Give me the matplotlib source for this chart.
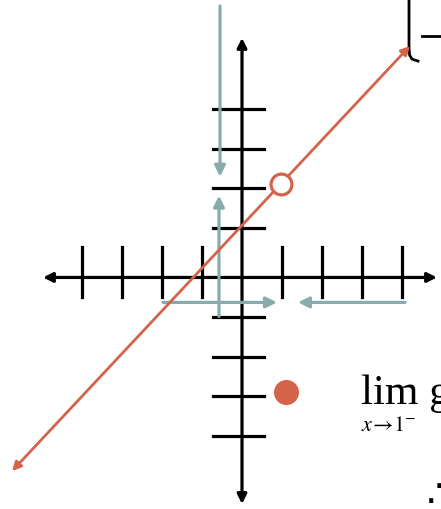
import matplotlib.pyplot as plt

plt.rcParams['mathtext.fontset'] = 'stix'

# tick positions (graph units)
xticks = [-4, -3, -2, -1, 1, 2, 3, 4]
yticks = [4.22, 3.22, 2.25, 1.25, -1, -2, -2.98, -3.98]

# red line g(x) ends, open circle and filled point
line_x = [-5.75, 4.2]
line_y = [-4.85, 5.8]
hole = (0.98, 2.35)
point = (1.1, -2.875)

# teal arrows: (tail, tip)
teal_arrows = [((-0.55, 6.8), (-0.55, 2.525)),
               ((-0.575, -0.975), (-0.575, 2.05)),
               ((-1.975, -0.625), (0.875, -0.625)),
               ((4.075, -0.625), (1.4, -0.625))]

# piece of the brace top right
brace_x = [4.175, 4.175, 4.19, 4.25, 4.4]
brace_y = [7.0, 5.75, 5.57, 5.47, 5.42]
dash_x = [4.5, 5.0]
dash_y = [6.05, 6.05]

red = '#d4634a'
teal = '#88abab'

fig = plt.figure(figsize=(4.41, 5.10), dpi=100)
ax = fig.add_axes([0, 0, 1, 1])
ax.set_xlim(-6.05, 4.975)
ax.set_ylim(-5.8, 6.975)
ax.axis('off')

# axes
ax.annotate('', xy=(4.875, 0), xytext=(-4.975, 0),
            arrowprops=dict(arrowstyle='<|-|>', lw=2.3, color='black',
                            mutation_scale=14, shrinkA=0, shrinkB=0))
ax.annotate('', xy=(0, 6.0), xytext=(0, -5.675),
            arrowprops=dict(arrowstyle='<|-|>', lw=2.3, color='black',
                            mutation_scale=14, shrinkA=0, shrinkB=0))
for t in xticks:
    ax.plot([t, t], [0.775, -0.5], color='black', lw=2.3)
for t in yticks:
    ax.plot([-0.725, 0.55], [t, t], color='black', lw=2.3)

# teal arrows
for tail, tip in teal_arrows:
    ax.annotate('', xy=tip, xytext=tail,
                arrowprops=dict(arrowstyle='-|>', lw=2.3, color=teal,
                                mutation_scale=16, shrinkA=0, shrinkB=0))

# red line
ax.annotate('', xy=(line_x[1], line_y[1]), xytext=(line_x[0], line_y[0]),
            arrowprops=dict(arrowstyle='<|-|>', lw=2.0, color=red,
                            mutation_scale=13, shrinkA=0, shrinkB=0))
ax.plot(*hole, 'o', ms=15, mfc='white', mec=red, mew=2.3, zorder=5)
ax.plot(*point, 'o', ms=17, color=red, zorder=5)

# brace and text
ax.plot(brace_x, brace_y, color='black', lw=2.0)
ax.plot(dash_x, dash_y, color='black', lw=2.0)
ax.text(2.975, -3.15, 'lim g', family='Liberation Serif', fontsize=31,
        ha='left', va='baseline')
ax.text(2.975, -3.83, r'$x\!\rightarrow\!1^{-}$', fontsize=16,
        ha='left', va='baseline')
ax.text(4.62, -5.72, '\u2234', family=['DejaVu Serif', 'DejaVu Sans'],
        fontsize=28, ha='left', va='baseline')

fig.savefig('out.png', dpi=100)
